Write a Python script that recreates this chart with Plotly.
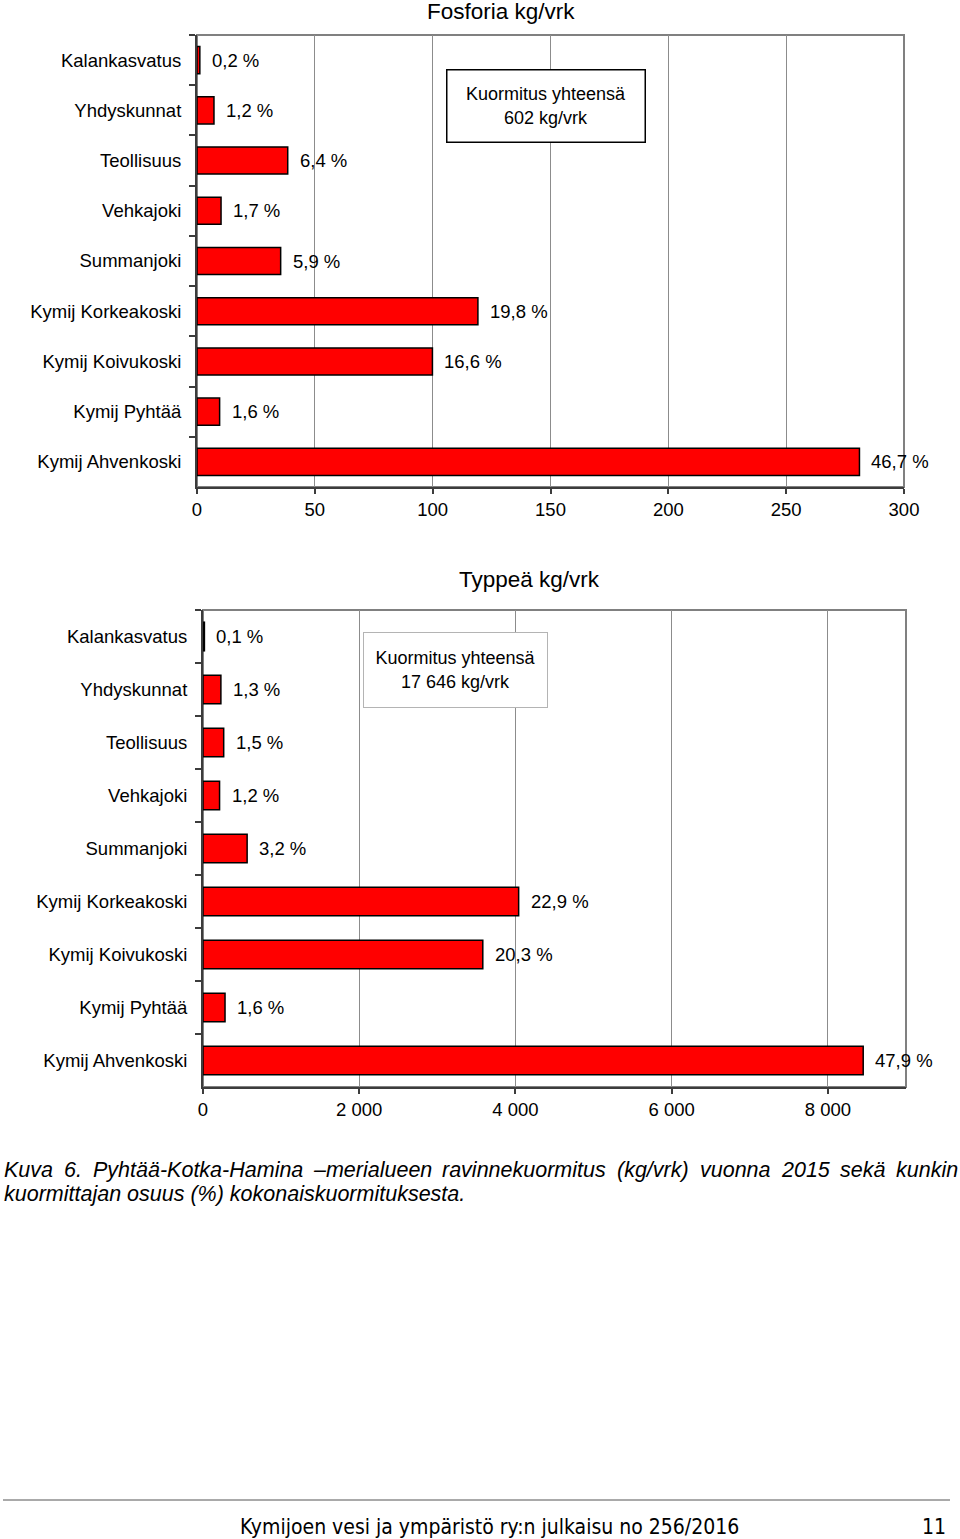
import plotly.graph_objects as go

# ---------------- data ----------------
categories = ["Kalankasvatus", "Yhdyskunnat", "Teollisuus", "Vehkajoki", "Summanjoki",
              "Kymij Korkeakoski", "Kymij Koivukoski", "Kymij Pyhtää", "Kymij Ahvenkoski"]

fosfori_kg = [1.2, 7.2, 38.5, 10.2, 35.5, 119.2, 99.9, 9.6, 281.1]
fosfori_pct = [0.2, 1.2, 6.4, 1.7, 5.9, 19.8, 16.6, 1.6, 46.7]
fosfori_total = "602"

typpi_kg = [18, 229, 265, 212, 565, 4041, 3582, 282, 8452]
typpi_pct = [0.1, 1.3, 1.5, 1.2, 3.2, 22.9, 20.3, 1.6, 47.9]
typpi_total = "17 646"

title_top = "Fosforia kg/vrk"
title_bottom = "Typpeä kg/vrk"
caption_line1 = "Kuva 6. Pyhtää-Kotka-Hamina –merialueen ravinnekuormitus (kg/vrk) vuonna 2015 sekä kunkin"
caption_line2 = "kuormittajan osuus (%) kokonaiskuormituksesta."
footer_text = "Kymijoen vesi ja ympäristö ry:n julkaisu no 256/2016"
page_no = "11"

# ---------------- layout helpers ----------------
W, H = 960, 1539
def px(x):
    return x / W
def py(y):
    return 1 - y / H

FONT = "Liberation Sans, Arial, Helvetica, sans-serif"
RED = "#ff0000"
AXIS = "#3c3c3c"
GRID = "#8c8c8c"
BORDER = "#808080"

def pct_label(p):
    return f"{p:.1f}".replace(".", ",") + " %"

fig = go.Figure()
fig.add_trace(go.Bar(x=fosfori_kg, y=categories, orientation="h", xaxis="x", yaxis="y",
                     marker=dict(color=RED, line=dict(color="#000000", width=1.5)),
                     width=0.54, hoverinfo="skip", showlegend=False))
fig.add_trace(go.Bar(x=typpi_kg, y=categories, orientation="h", xaxis="x2", yaxis="y2",
                     marker=dict(color=RED, line=dict(color="#000000", width=1.5)),
                     width=0.54, hoverinfo="skip", showlegend=False))

tickfont = dict(family=FONT, size=18.5, color="#000000")

common_x = dict(showgrid=True, gridcolor=GRID, gridwidth=1, zeroline=False,
                showline=True, linecolor=AXIS, linewidth=2, automargin=False,
                ticks="outside", ticklen=5, tickcolor=AXIS, tickwidth=1.5,
                tickfont=tickfont, tick0=0)
common_y = dict(type="category", autorange="reversed", tickson="boundaries",
                showgrid=False, zeroline=False, showline=True, linecolor=AXIS, linewidth=2,
                automargin=False,
                ticks="outside", ticklen=6, tickcolor=AXIS, tickwidth=1.5,
                tickfont=tickfont, ticklabelstandoff=10)

fig.update_layout(
    template="none",
    width=W, height=H, autosize=False,
    margin=dict(l=0, r=0, t=0, b=0, pad=0, autoexpand=False),
    paper_bgcolor="#ffffff", plot_bgcolor="#ffffff",
    separators=", ",
    xaxis=dict(domain=[px(197), px(904)], anchor="y", range=[0, 300], dtick=50, **common_x),
    yaxis=dict(domain=[py(487), py(35)], anchor="x", **common_y),
    xaxis2=dict(domain=[px(203), px(906)], anchor="y2", range=[0, 9000], dtick=2000,
                separatethousands=True, **common_x),
    yaxis2=dict(domain=[py(1087), py(610)], anchor="x2", **common_y),
    bargap=0.46,
)

shapes = [
    dict(type="rect", xref="x domain", yref="y domain", x0=0, x1=1, y0=0, y1=1,
         line=dict(color=BORDER, width=2), layer="below"),
    dict(type="rect", xref="x2 domain", yref="y2 domain", x0=0, x1=1, y0=0, y1=1,
         line=dict(color=BORDER, width=2), layer="below"),
    dict(type="line", xref="paper", yref="paper", x0=px(3), x1=px(950), y0=py(1500), y1=py(1500),
         line=dict(color="#555555", width=1)),
]

annotations = []
lbl_font = dict(family=FONT, size=18.5, color="#000000")
for cat, v, p in zip(categories, fosfori_kg, fosfori_pct):
    annotations.append(dict(x=v, y=cat, xref="x", yref="y", text=pct_label(p), showarrow=False,
                            xanchor="left", yanchor="middle", xshift=10, font=lbl_font))
for cat, v, p in zip(categories, typpi_kg, typpi_pct):
    annotations.append(dict(x=v, y=cat, xref="x2", yref="y2", text=pct_label(p), showarrow=False,
                            xanchor="left", yanchor="middle", xshift=10, font=lbl_font))

# titles
annotations.append(dict(x=px(501), y=py(11), xref="paper", yref="paper", text=title_top,
                        showarrow=False, xanchor="center", yanchor="middle",
                        font=dict(family=FONT, size=22.5, color="#000000")))
annotations.append(dict(x=px(529), y=py(579), xref="paper", yref="paper", text=title_bottom,
                        showarrow=False, xanchor="center", yanchor="middle",
                        font=dict(family=FONT, size=22.5, color="#000000")))

# total boxes
annotations.append(dict(x=px(545.5), y=py(105.5), xref="paper", yref="paper",
                        text=f"Kuormitus yhteensä<br>{fosfori_total} kg/vrk",
                        showarrow=False, xanchor="center", yanchor="middle",
                        width=195, height=69, borderpad=1, borderwidth=1.5,
                        bordercolor="#000000", bgcolor="#ffffff",
                        font=dict(family=FONT, size=18, color="#000000")))
annotations.append(dict(x=px(455), y=py(669.5), xref="paper", yref="paper",
                        text=f"Kuormitus yhteensä<br>{typpi_total} kg/vrk",
                        showarrow=False, xanchor="center", yanchor="middle",
                        width=181, height=72, borderpad=1, borderwidth=1,
                        bordercolor="#b4b4b4", bgcolor="#ffffff",
                        font=dict(family=FONT, size=18, color="#000000")))

# caption (justified line 1 -> word by word)
cap_font = dict(family=FONT, size=21.5, color="#000000", style="italic")
words = caption_line1.split(" ")
word_x = [2, 62, 90.5, 311, 440, 614.5, 697.5, 778.5, 837.5]
for w, x in zip(words[:-1], word_x):
    annotations.append(dict(x=px(x), y=py(1170), xref="paper", yref="paper", text=w,
                            showarrow=False, xanchor="left", yanchor="middle", font=cap_font))
annotations.append(dict(x=px(960), y=py(1170), xref="paper", yref="paper", text=words[-1],
                        showarrow=False, xanchor="right", yanchor="middle", font=cap_font))
annotations.append(dict(x=px(2), y=py(1194), xref="paper", yref="paper", text=caption_line2,
                        showarrow=False, xanchor="left", yanchor="middle", font=cap_font))

# footer
foot_font = dict(family="Liberation Sans Narrow, Arial Narrow, DejaVu Sans Condensed, sans-serif",
                 size=21, color="#000000")
annotations.append(dict(x=px(490), y=py(1527), xref="paper", yref="paper", text=footer_text,
                        showarrow=False, xanchor="center", yanchor="middle", font=foot_font))
annotations.append(dict(x=px(948), y=py(1527), xref="paper", yref="paper", text=page_no,
                        showarrow=False, xanchor="right", yanchor="middle", font=foot_font))

fig.update_layout(shapes=shapes, annotations=annotations)

fig.write_html("out.html", config={"displayModeBar": False},
               post_script="document.body.style.margin='0';document.body.style.overflow='hidden';")
